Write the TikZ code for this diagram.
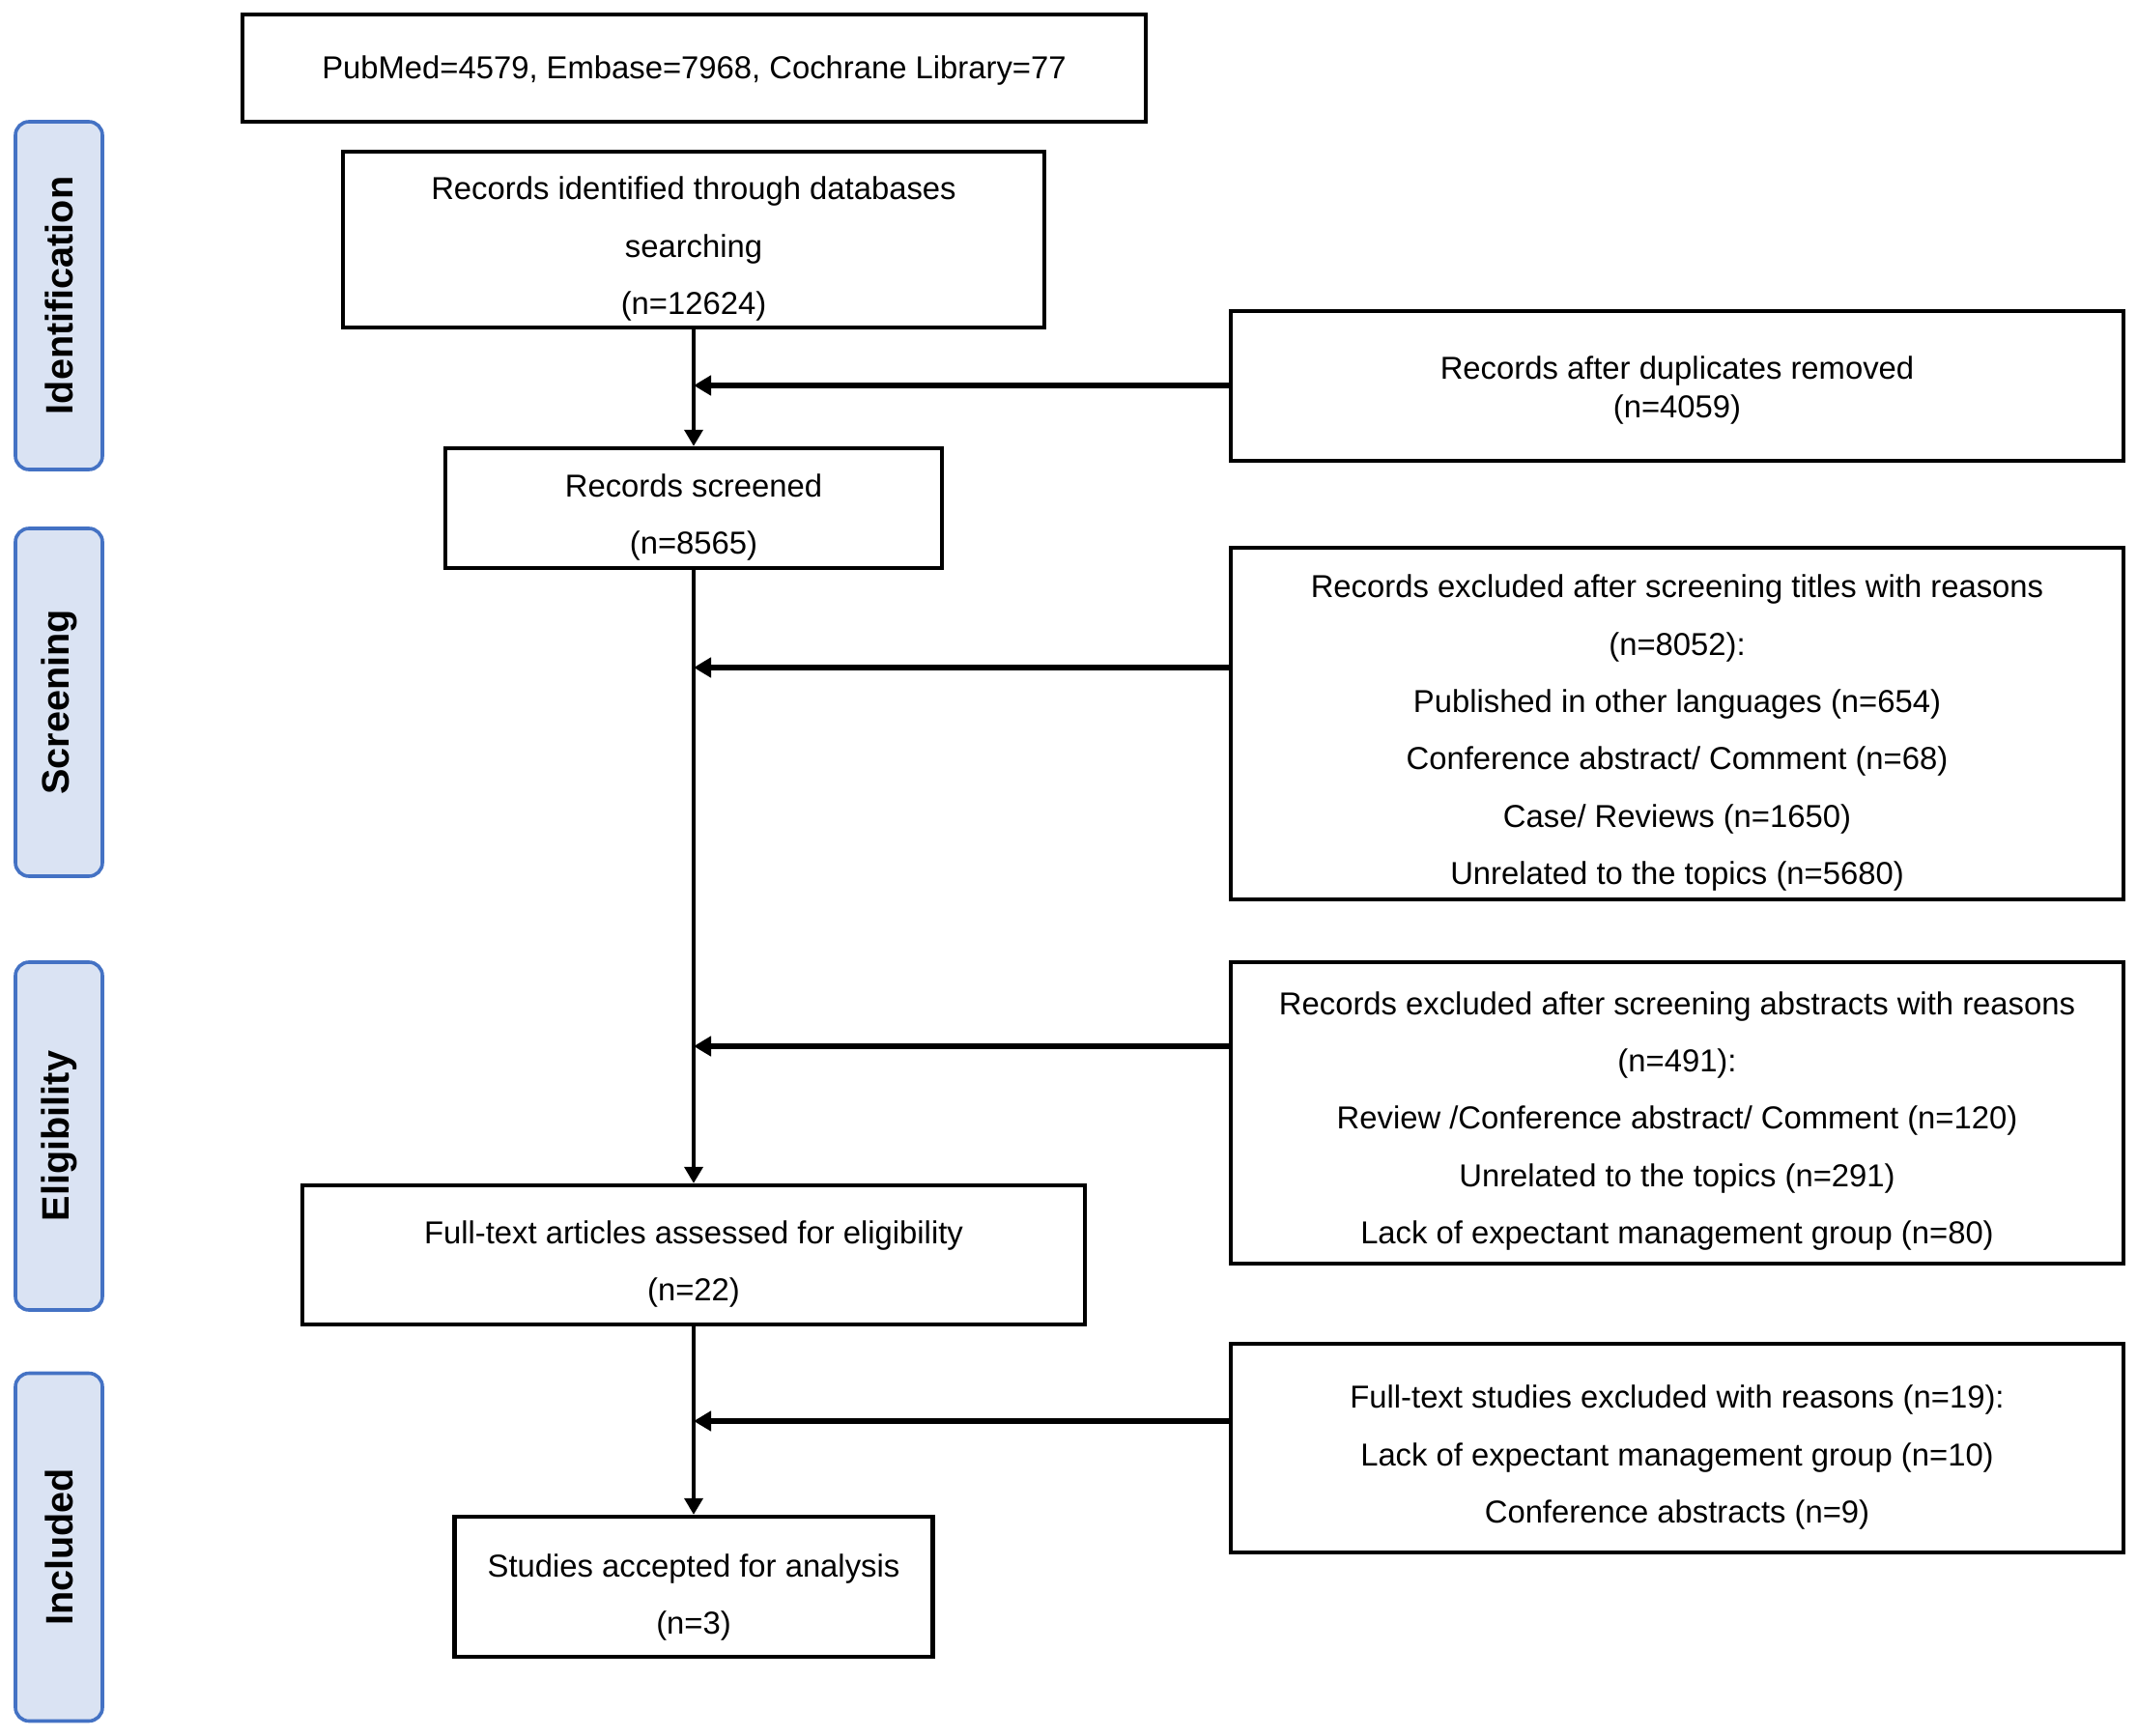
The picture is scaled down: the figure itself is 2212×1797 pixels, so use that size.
\documentclass[tikz,border=0pt]{standalone}
\usepackage{fontspec}
\setmainfont{Liberation Sans}
\usetikzlibrary{arrows.meta}
\definecolor{sidefill}{HTML}{DAE3F3}
\definecolor{sidedraw}{HTML}{4472C4}
\newcommand{\boxtext}[2]{\raisebox{-#1}[0pt][0pt]{\begin{tabular}{@{}c@{}}#2\end{tabular}}}
\begin{document}
\begin{tikzpicture}[x=0.5pt,y=-0.5pt,
  box/.style={draw, line width=2.2pt, align=center, inner sep=0pt,
    font={\fontsize{16.4pt}{29.7pt}\selectfont}},
  sidelab/.style={draw=sidedraw, fill=sidefill, line width=1.8pt, rounded corners=7pt,
    minimum width=45pt, minimum height=180pt, inner sep=0pt,
    font={\fontsize{19.8pt}{24pt}\selectfont\bfseries}},
  harrow/.style={line width=2.7pt, -{Triangle[length=9pt,width=10pt]}},
  varrow/.style={line width=1.9pt, -{Triangle[length=8.5pt,width=9.5pt]}}
]
\useasboundingbox (0,0) rectangle (2212,1797);
% left phase labels
\node[sidelab] (sid) at (61,306) {\rotatebox{90}{Identification}};
\node[sidelab] (sscr) at (61,727) {\rotatebox{90}{Screening}};
\node[sidelab] (seli) at (61,1176) {\rotatebox{90}{Eligibility}};
\node[sidelab] (sinc) at (61,1601.5) {\rotatebox{90}{Included}};
% main column
\node[box, minimum width=467.5pt, minimum height=55.5pt] (top) at (718.5,70.5)
  {\boxtext{4pt}{PubMed=4579, Embase=7968, Cochrane Library=77}};
\node[box, minimum width=363pt, minimum height=91pt] (ident) at (718,248)
  {\boxtext{7.5pt}{Records identified through databases\\searching\\(n=12624)}};
\node[box, minimum width=257pt, minimum height=62pt] (screened) at (718,526)
  {\boxtext{7.5pt}{Records screened\\(n=8565)}};
\node[box, minimum width=405pt, minimum height=72pt] (fulltext) at (718,1299)
  {\boxtext{7.5pt}{Full-text articles assessed for eligibility\\(n=22)}};
\node[box, minimum width=247.5pt, minimum height=72.5pt] (accepted) at (718,1642.5)
  {\boxtext{8.2pt}{Studies accepted for analysis\\(n=3)}};
% right column
\node[box, minimum width=462pt, minimum height=77.5pt,
  font={\fontsize{16.4pt}{19.75pt}\selectfont}] (dup) at (1736,399.5)
  {\boxtext{6.8pt}{Records after duplicates removed\\(n=4059)}};
\node[box, minimum width=462pt, minimum height=182pt] (titles) at (1736,749)
  {\boxtext{7.5pt}{Records excluded after screening titles with reasons\\(n=8052):\\Published in other languages (n=654)\\Conference abstract/ Comment (n=68)\\Case/ Reviews (n=1650)\\Unrelated to the topics (n=5680)}};
\node[box, minimum width=462pt, minimum height=156pt] (abstracts) at (1736,1152)
  {\boxtext{6.8pt}{Records excluded after screening abstracts with reasons\\(n=491):\\Review /Conference abstract/ Comment (n=120)\\Unrelated to the topics (n=291)\\Lack of expectant management group (n=80)}};
\node[box, minimum width=462pt, minimum height=108pt] (ftexcl) at (1736,1499)
  {\boxtext{7.5pt}{Full-text studies excluded with reasons (n=19):\\Lack of expectant management group (n=10)\\Conference abstracts (n=9)}};
% vertical flow
\draw[varrow] (ident.south) -- (screened.north);
\draw[varrow] (screened.south) -- (fulltext.north);
\draw[varrow] (fulltext.south) -- (accepted.north);
% horizontal exclusions
\coordinate (c1) at (718,399);
\coordinate (c2) at (718,691);
\coordinate (c3) at (718,1083);
\coordinate (c4) at (718,1471);
\draw[harrow] (dup.west |- c1) -- (c1);
\draw[harrow] (titles.west |- c2) -- (c2);
\draw[harrow] (abstracts.west |- c3) -- (c3);
\draw[harrow] (ftexcl.west |- c4) -- (c4);
\end{tikzpicture}
\end{document}
